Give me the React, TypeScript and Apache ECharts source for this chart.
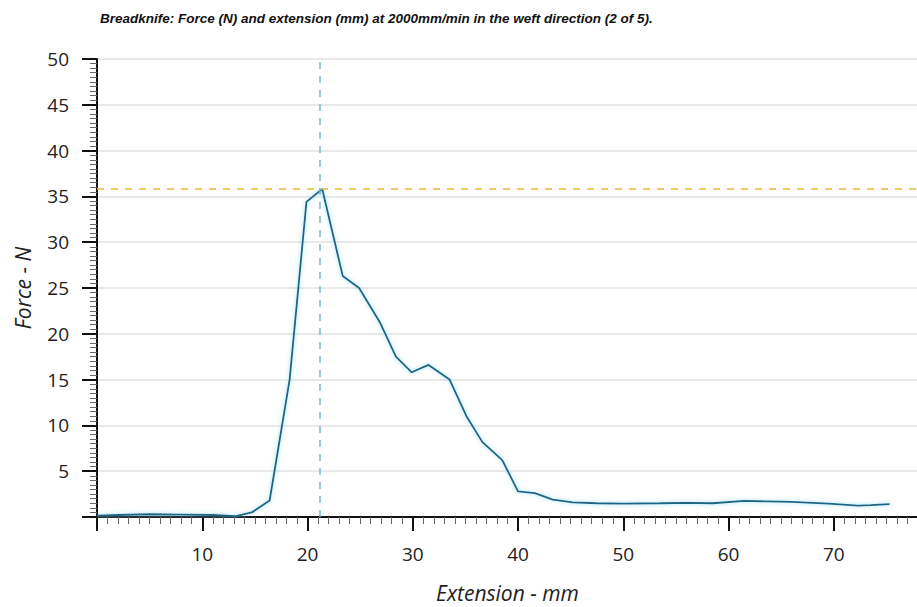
import React, { useEffect, useRef } from "react";
import * as echarts from "echarts";

const titleText =
  "Breadknife: Force (N) and extension (mm) at 2000mm/min in the weft direction (2 of 5).";
const xAxisName = "Extension - mm";
const yAxisName = "Force - N";

const extension = [
  0, 2, 5, 8, 11, 13.2, 14.7, 16.4, 18.3, 19.9, 21.4, 23.35, 24.9, 26.9, 28.4, 29.9,
  31.5, 33.5, 35.1, 36.6, 38.5, 40.0, 41.6, 43.3, 45.2, 47.5, 50, 53.5, 56, 58.5,
  61.5, 66, 69.5, 72.3, 73.5, 75.3,
];
const force = [
  0.15, 0.22, 0.3, 0.27, 0.22, 0.1, 0.5, 1.8, 15, 34.4, 35.8, 26.3, 25.0, 21.2, 17.5,
  15.8, 16.6, 15.0, 11.0, 8.2, 6.2, 2.8, 2.6, 1.9, 1.6, 1.5, 1.45, 1.5, 1.55, 1.5,
  1.75, 1.65, 1.45, 1.25, 1.3, 1.4,
];
const peakForce = 35.8;
const peakExtension = 21.15;

export default function App() {
  const ref = useRef<HTMLDivElement>(null);
  useEffect(() => {
    if (!ref.current) return;
    const chart = echarts.init(ref.current, null, { renderer: "svg" });
    const labelFont = "'Open Sans', 'DejaVu Sans', sans-serif";
    chart.setOption({
      animation: false,
      backgroundColor: "#ffffff",
      title: {
        text: titleText,
        left: 95,
        top: 6,
        textStyle: {
          fontSize: 13.5,
          fontWeight: "bold",
          fontStyle: "italic",
          color: "#111",
          fontFamily: "'Liberation Sans Narrow', 'Arial Narrow', 'Liberation Sans', sans-serif",
        },
      },
      grid: {
        left: 97,
        top: 59,
        width: 821,
        height: 458,
        containLabel: false,
        outerBoundsMode: "none",
      },
      xAxis: {
        type: "value",
        min: 0,
        max: 78,
        interval: 10,
        name: xAxisName,
        nameLocation: "middle",
        nameGap: 65,
        nameTextStyle: {
          fontSize: 21,
          fontStyle: "italic",
          color: "#222",
          fontFamily: labelFont,
        },
        axisLine: { show: true, onZero: false, lineStyle: { color: "#111", width: 2 } },
        axisTick: { show: true, length: 14, lineStyle: { color: "#111", width: 2 } },
        minorTick: { show: true, splitNumber: 10, length: 7, lineStyle: { color: "#666", width: 1 } },
        axisLabel: {
          showMinLabel: false,
          showMaxLabel: false,
          margin: 27,
          fontSize: 19,
          color: "#222",
          fontFamily: labelFont,
        },
        splitLine: { show: false },
      },
      yAxis: {
        type: "value",
        min: 0,
        max: 50,
        interval: 5,
        name: yAxisName,
        nameLocation: "middle",
        nameGap: 64,
        nameTextStyle: {
          fontSize: 21,
          fontStyle: "italic",
          color: "#222",
          fontFamily: labelFont,
        },
        axisLine: { show: true, lineStyle: { color: "#111", width: 2 } },
        axisTick: { show: true, length: 15, lineStyle: { color: "#111", width: 2 } },
        minorTick: { show: true, splitNumber: 10, length: 7, lineStyle: { color: "#666", width: 1 } },
        axisLabel: {
          showMinLabel: false,
          margin: 28,
          fontSize: 19,
          color: "#222",
          fontFamily: labelFont,
        },
        splitLine: { show: true, lineStyle: { color: "#e2e2e2", width: 1.5 } },
      },
      series: [
        {
          type: "line",
          data: extension.map((x, i) => [x, force[i]]),
          showSymbol: false,
          symbol: "none",
          lineStyle: {
            color: "#1d6585",
            width: 1.8,
            shadowColor: "rgba(120,210,240,0.8)",
            shadowBlur: 4,
          },
          markLine: {
            silent: true,
            symbol: "none",
            label: { show: false },
            data: [
              { yAxis: peakForce, lineStyle: { color: "#e6b93a", type: [7, 7], width: 1.5 } },
              { xAxis: peakExtension, lineStyle: { color: "#7db7cc", type: [7, 7], width: 1.5 } },
            ],
          },
        },
      ],
    });
    return () => chart.dispose();
  }, []);
  return (
    <div
      ref={ref}
      style={{ position: "fixed", left: 0, top: 0, width: 917, height: 607 }}
    />
  );
}
